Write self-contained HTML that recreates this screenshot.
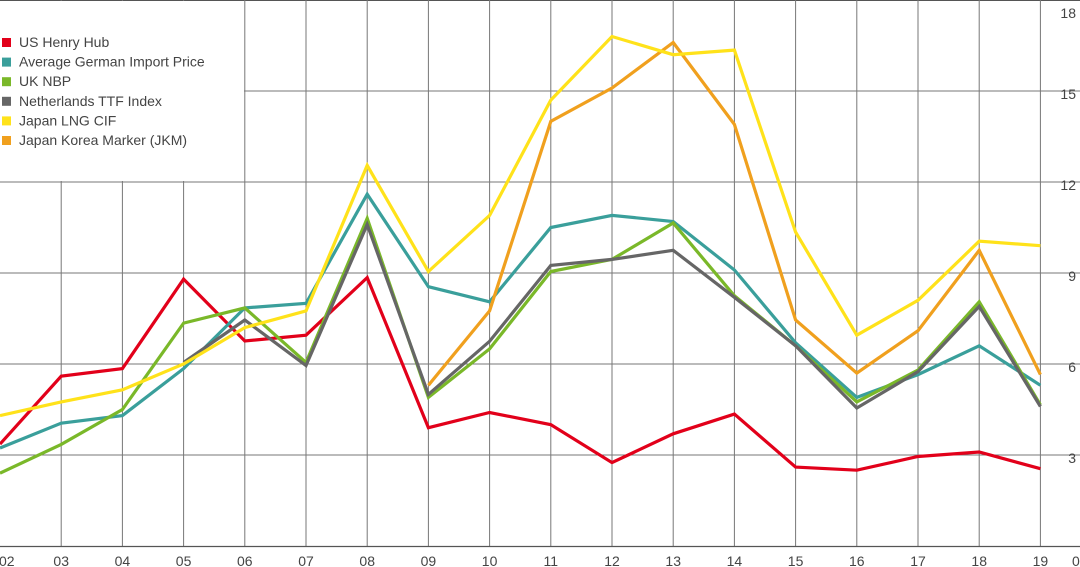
<!DOCTYPE html>
<html><head><meta charset="utf-8"><style>
html,body{margin:0;padding:0;background:#fff;}
svg{display:block;font-family:"Liberation Sans",sans-serif;}
</style></head><body>
<svg id="chart" width="1080" height="567" viewBox="0 0 1080 567">
<g id="grid"></g>
<g id="legend" font-size="14" fill="#333"></g>
<g id="series"></g>
<g id="axes"></g>
</svg>
<script>
const years = ["02","03","04","05","06","07","08","09","10","11","12","13","14","15","16","17","18","19"];
const yTicks = [3,6,9,12,15,18];
const henryHub = [3.36,5.6,5.85,8.8,6.76,6.95,8.85,3.9,4.4,4.0,2.75,3.7,4.35,2.6,2.5,2.95,3.1,2.55];
const german = [3.23,4.05,4.3,5.85,7.85,8.0,11.6,8.55,8.05,10.5,10.9,10.7,9.1,6.7,4.9,5.65,6.6,5.3];
const ukNbp = [2.4,3.35,4.5,7.35,7.85,6.05,10.8,4.9,6.5,9.05,9.45,10.65,8.25,6.6,4.75,5.8,8.05,4.65];
const ttf = [null,null,null,6.05,7.45,5.95,10.6,5.0,6.75,9.25,9.45,9.75,8.2,6.6,4.55,5.75,7.9,4.6];
const lngCif = [4.3,4.75,5.15,6.0,7.2,7.75,12.55,9.05,10.9,14.7,16.8,16.2,16.35,10.35,6.95,8.1,10.05,9.9];
const jkm = [null,null,null,null,null,null,null,5.3,7.75,14.0,15.1,16.6,13.9,7.45,5.7,7.1,9.75,5.65];
const seriesNames = ["US Henry Hub","Average German Import Price","UK NBP","Netherlands TTF Index","Japan LNG CIF","Japan Korea Marker (JKM)"];
const seriesColors = ["#e2001a","#3a9f9b","#7ab829","#666666","#ffe21a","#f0a01e"];
const seriesData = [henryHub,german,ukNbp,ttf,lngCif,jkm];

const NS="http://www.w3.org/2000/svg";
const x = i => i*61.2;
const y = v => 546 - v*30.33;
function mk(tag, attrs, parent){const e=document.createElementNS(NS,tag);for(const k in attrs)e.setAttribute(k,attrs[k]);parent.appendChild(e);return e;}
const grid=document.getElementById('grid'), axes=document.getElementById('axes'), ser=document.getElementById('series'), leg=document.getElementById('legend');

let tl=mk('line',{x1:0,x2:1080,y1:0.5,y2:0.5,stroke:'#555','stroke-width':1},grid);


yTicks.forEach(v=>{
  if(v<18){
    const l=mk('line',{x1:0,x2:1080,y1:y(v),y2:y(v),stroke:'#777','stroke-width':1},grid);
    
    
  }
  const t=mk('text',{x:1076,y:(v===18?18:y(v)+8),'text-anchor':'end','font-size':14,fill:'#444'},axes);
  t.textContent=v;
  
  
});
years.forEach((yr,i)=>{
  if(i>0){
    const l=mk('line',{x1:x(i),x2:x(i),y1:0,y2:546,stroke:'#777','stroke-width':1},grid);
    
    
  }
  const t=mk('text',{x:x(i),y:566,'text-anchor':i===0?'start':'middle','font-size':14,fill:'#444'},axes);
  if(i===0)t.setAttribute('x',-1);
  t.textContent=yr;
  
  
});
const z=mk('text',{x:1072,y:566,'font-size':14,fill:'#444'},axes);
z.textContent='0';


const ax=mk('line',{x1:0,x2:1080,y1:546.5,y2:546.5,stroke:'#555','stroke-width':1.2},axes);



const lb=mk('rect',{x:0,y:1,width:244,height:180,fill:'#fff'},leg);



const order=[0,1,2,3,5,4];
order.forEach(s=>{
  const d=seriesData[s];let p='';
  d.forEach((v,i)=>{if(v==null)return;p+=(p?'L':'M')+x(i).toFixed(1)+','+y(v).toFixed(1);});
  const path=mk('path',{d:p,fill:'none',stroke:seriesColors[s],'stroke-width':3.2,'stroke-linejoin':'miter'},ser);
  
  
});
seriesNames.forEach((n,i)=>{
  const g=mk('g',{},leg);
  
  
  const cy=42+i*19.6;
  mk('rect',{x:2,y:cy-4,width:9,height:9,fill:seriesColors[i]},g);
  const t=mk('text',{x:19,y:cy+5,'font-size':14,fill:'#444'},g);
  t.textContent=n;
});
</script>
</body></html>
